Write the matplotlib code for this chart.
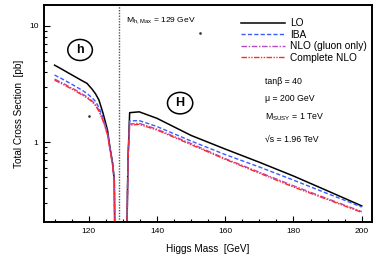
import matplotlib
matplotlib.use("Agg")
import matplotlib.pyplot as plt
from matplotlib.patches import Ellipse
from matplotlib.ticker import FixedLocator, MultipleLocator, LogLocator, NullFormatter, FixedFormatter

plt.rcParams['font.family'] = ['Liberation Sans', 'DejaVu Sans']
plt.rcParams['mathtext.default'] = 'regular'

# h branch (light Higgs)
mh_light = [110, 112, 114, 116, 118, 119.5, 121, 122, 123, 124.2, 125.5, 126.2, 127.0, 127.5, 127.7]
lo_h  = [4.59, 4.26, 3.94, 3.65, 3.38, 3.20, 2.85, 2.60, 2.30, 1.77, 1.27, 0.91, 0.66, 0.47, 0.10]
iba_h = [3.77, 3.52, 3.27, 3.03, 2.80, 2.62, 2.40, 2.24, 1.98, 1.62, 1.22, 0.90, 0.65, 0.46, 0.10]
nlog_h = [3.48, 3.26, 3.03, 2.82, 2.60, 2.45, 2.26, 2.10, 1.88, 1.55, 1.18, 0.88, 0.64, 0.46, 0.10]
nlo_h = [3.41, 3.19, 2.97, 2.76, 2.55, 2.40, 2.22, 2.06, 1.84, 1.52, 1.16, 0.87, 0.63, 0.45, 0.10]

# H branch (heavy Higgs)
mh_heavy = [131.1, 131.5, 132.0, 134.8, 140, 150, 160, 170, 180, 190, 200]
lo_H  = [0.10, 0.70, 1.79, 1.82, 1.60, 1.14, 0.87, 0.67, 0.51, 0.38, 0.282]
iba_H = [0.10, 0.70, 1.52, 1.53, 1.36, 1.02, 0.78, 0.61, 0.47, 0.36, 0.276]
nlog_H = [0.10, 0.70, 1.43, 1.45, 1.29, 0.97, 0.72, 0.55, 0.42, 0.325, 0.252]
nlo_H = [0.10, 0.70, 1.40, 1.42, 1.27, 0.95, 0.71, 0.54, 0.41, 0.32, 0.248]

labels = ["LO", "IBA", "NLO (gluon only)", "Complete NLO"]
colors = ["black", "#3a5cff", "#b04cc0", "#ff2a2a"]
styles = ["-", (0, (3, 1.6)), (0, (4, 1.2, 1, 1.2)), (0, (4, 1, 1, 1, 1, 1))]

mh_max = 129
xticks = [120, 140, 160, 180, 200]
yticks = [1, 10]

stray_x = [120.1, 152.6]
stray_y = [1.67, 8.65]

fig = plt.figure(figsize=(3.78, 2.67), dpi=100)
ax = fig.add_axes([0.1164, 0.1685, 0.8677, 0.8125])

hs = [lo_h, iba_h, nlog_h, nlo_h]
Hs = [lo_H, iba_H, nlog_H, nlo_H]
handles = []
for yh, yH, lab, c, ls in zip(hs, Hs, labels, colors, styles):
    lw = 1.1 if lab == "LO" else 1.0
    l, = ax.plot(mh_light, yh, color=c, linestyle=ls, lw=lw, label=lab)
    ax.plot(mh_heavy, yH, color=c, linestyle=ls, lw=lw)
    handles.append(l)

ax.axvline(mh_max, color='#555555', linestyle=(0, (1, 1)), lw=1.0)
ax.scatter(stray_x, stray_y, s=0.8, color='#333333')

ax.set_yscale('log')
ax.set_xlim(106.9, 203.0)
ax.set_ylim(0.205, 15.1)

ax.xaxis.set_major_locator(FixedLocator(xticks))
ax.xaxis.set_minor_locator(MultipleLocator(5))
ax.yaxis.set_major_locator(FixedLocator(yticks))
ax.yaxis.set_major_formatter(FixedFormatter([str(v) for v in yticks]))
ax.yaxis.set_minor_locator(LogLocator(base=10, subs=[2, 3, 4, 5, 6, 7, 8, 9]))
ax.yaxis.set_minor_formatter(NullFormatter())

ax.tick_params(which='both', direction='in', top=False, right=False, labelsize=6, width=0.8)
ax.tick_params(which='major', length=4.3, pad=4)
ax.tick_params(which='minor', length=2.2)
for s in ax.spines.values():
    s.set_linewidth(1.4)

ax.set_xlabel("Higgs Mass  [GeV]", fontsize=7.2, labelpad=7)
ax.set_ylabel("Total Cross Section  [pb]", fontsize=7.2, labelpad=3.5)

leg = ax.legend(handles=handles, loc='upper left', bbox_to_anchor=(0.60, 0.94),
                frameon=False, fontsize=7.3, handlelength=4.4, handletextpad=0.5,
                labelspacing=0.15, borderpad=0, borderaxespad=0)

ax.text(130.9, 11.2, r"M$_{h,Max}$ = 129 GeV", fontsize=6.1, va='center', ha='left')

for (cx, cy, w, h, t) in [(0.110, 0.793, 0.075, 0.097, "h"), (0.415, 0.548, 0.077, 0.099, "H")]:
    ax.add_patch(Ellipse((cx, cy), w, h, transform=ax.transAxes, fc='white', ec='black', lw=1.1, zorder=5))
    ax.text(cx, cy, t, transform=ax.transAxes, fontsize=9, fontweight='bold',
            ha='center', va='center', zorder=6)

tx = 0.674
ax.text(tx, 0.647, "tanβ = 40", transform=ax.transAxes, fontsize=6.3, va='center')
ax.text(tx, 0.570, "μ = 200 GeV", transform=ax.transAxes, fontsize=6.3, va='center')
ax.text(tx, 0.485, r"M$_{SUSY}$ = 1 TeV", transform=ax.transAxes, fontsize=6.3, va='center')
ax.text(tx, 0.382, "√s = 1.96 TeV", transform=ax.transAxes, fontsize=6.3, va='center')

fig.savefig("out.png", dpi=100)
